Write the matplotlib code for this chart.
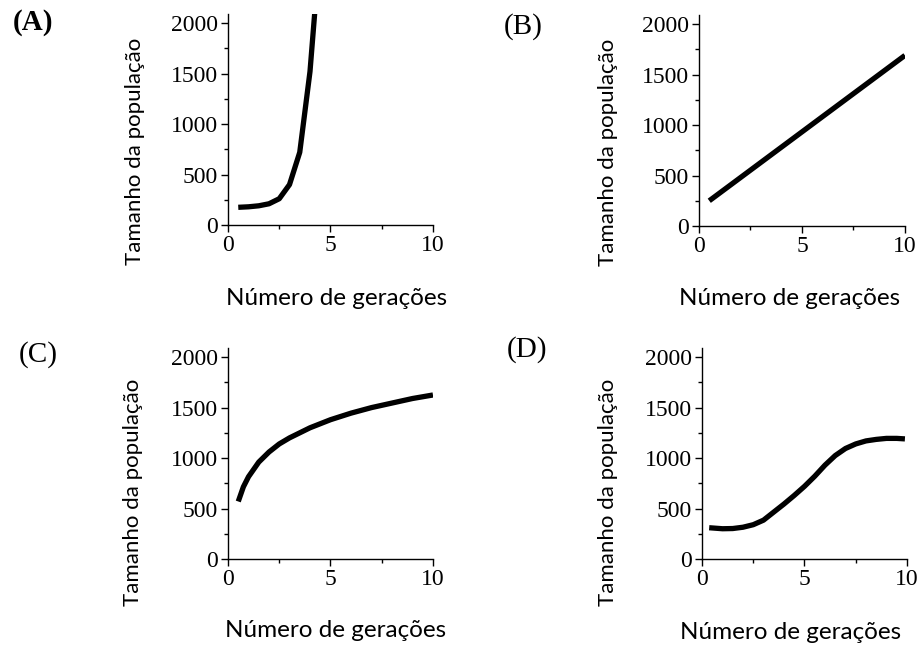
import matplotlib
matplotlib.use("Agg")
import matplotlib.pyplot as plt
from matplotlib.ticker import MultipleLocator

# (A) exponential growth
xa = [0.5, 1.0, 1.5, 2.0, 2.5, 3.0, 3.5, 4.0, 4.25]
ya = [175, 180, 190, 210, 260, 400, 720, 1520, 2150]
# (B) linear growth
xb = [0.5, 10]
yb = [250, 1690]
# (C) logarithmic growth
xc = [0.5, 0.75, 1.0, 1.5, 2.0, 2.5, 3.0, 4.0, 5.0, 6.0, 7.0, 8.0, 9.0, 10.0]
yc = [570, 715, 815, 960, 1060, 1140, 1200, 1300, 1380, 1445, 1500, 1545, 1590, 1625]
# (D) logistic growth
xd = [0.35, 1.0, 1.5, 2.0, 2.5, 3.0, 3.5, 4.0, 4.5, 5.0, 5.5, 6.0, 6.5, 7.0, 7.5, 8.0, 8.5, 9.0, 9.5, 9.9]
yd = [310, 300, 302, 315, 340, 385, 465, 545, 630, 720, 820, 930, 1025, 1095, 1140, 1170, 1185, 1195, 1195, 1190]

panels = ["(A)", "(B)", "(C)", "(D)"]
xlabel = "Número de gerações"
ylabel = "Tamanho da população"

# tick numbers and panel letters in a Times-like face
plt.rcParams["font.family"] = ["Liberation Serif", "DejaVu Serif"]
sans = ["Lato", "DejaVu Sans"]

fig = plt.figure(figsize=(9.22, 6.45), dpi=100)

# axes rectangles and label placement for each panel
rects = [
    [0.2473, 0.6512, 0.2223, 0.3271],
    [0.7581, 0.6496, 0.2234, 0.3271],
    [0.2473, 0.1333, 0.2223, 0.3271],
    [0.7614, 0.1333, 0.2223, 0.3271],
]
ylab_pos = [(-0.405, 0.348), (-0.393, 0.348), (-0.415, 0.315), (-0.41, 0.315)]
xlab_pos = [(0.53, -0.30), (0.44, -0.294), (0.527, -0.29), (0.43, -0.30)]
title_pos = [(33, 23), (523, 27), (38, 355), (527, 350)]
data = [(xa, ya), (xb, yb), (xc, yc), (xd, yd)]

for i in range(4):
    ax = fig.add_axes(rects[i])
    x, y = data[i]
    ax.plot(x, y, color="black", lw=3.8, solid_capstyle="butt")
    ax.set_xlim(0, 10)
    ax.set_ylim(0, 2090)
    ax.spines["top"].set_visible(False)
    ax.spines["right"].set_visible(False)
    ax.spines["left"].set_linewidth(1.0)
    ax.spines["bottom"].set_linewidth(1.0)
    ax.xaxis.set_major_locator(MultipleLocator(5))
    ax.xaxis.set_minor_locator(MultipleLocator(2.5))
    ax.yaxis.set_major_locator(MultipleLocator(500))
    ax.yaxis.set_minor_locator(MultipleLocator(250))
    ax.tick_params(which="major", direction="out", length=5, width=1, pad=2, labelsize=17)
    ax.tick_params(which="minor", direction="out", length=3, width=1)
    ax.set_xlabel(xlabel, family=sans, fontsize=17.5)
    ax.set_ylabel(ylabel, family=sans, fontsize=16)
    ax.xaxis.set_label_coords(*xlab_pos[i])
    ax.yaxis.set_label_coords(*ylab_pos[i])
    tx, ty = title_pos[i]
    fig.text(tx / 922, 1 - ty / 645, panels[i], fontsize=21,
             fontweight="bold" if i == 0 else "normal", ha="center", va="center")

fig.savefig("out.png", dpi=100)
